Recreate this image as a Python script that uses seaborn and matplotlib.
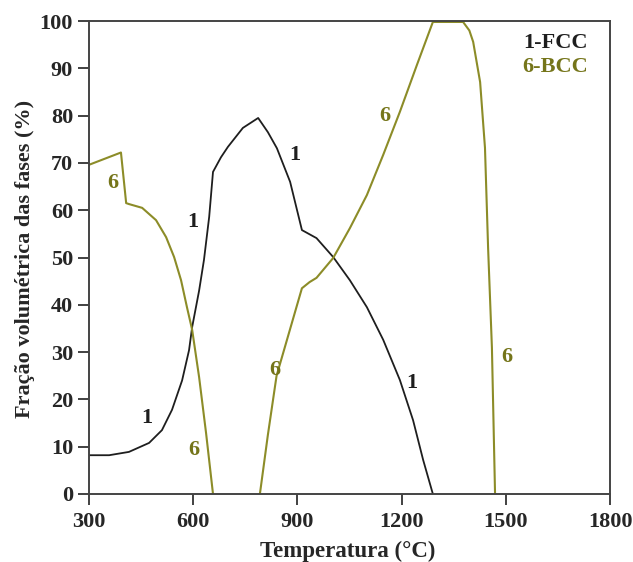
import numpy as np
import pandas as pd
import matplotlib
matplotlib.use("Agg")
import matplotlib.pyplot as plt
import seaborn as sns

# Phase volume fractions (%) vs temperature (°C)
fcc_temp = [300, 358, 415, 473, 510, 539, 568, 588, 597, 617, 631, 646, 657, 680, 700, 743, 787,
            815, 841, 879, 913, 955, 1003, 1051, 1100, 1147, 1195, 1233, 1262, 1290]
fcc_frac = [8.2, 8.2, 8.9, 10.8, 13.5, 17.8, 24.0, 30.4, 35.3, 43.0, 49.5, 58.6, 68.1, 71.2, 73.4, 77.4, 79.5,
            76.5, 73.1, 66.0, 55.8, 54.1, 50.1, 45.2, 39.5, 32.6, 24.1, 15.6, 7.2, 0.0]

bcc_temp_low = [300, 392, 407, 415, 453, 493, 522, 545, 565, 582, 597, 617, 637, 657]
bcc_frac_low = [69.6, 72.2, 61.5, 61.3, 60.5, 57.9, 54.3, 50.1, 45.2, 39.5, 34.7, 24.7, 12.9, 0.0]

bcc_temp_high = [792, 815, 840, 913, 935, 955, 1003, 1051, 1100, 1147, 1195, 1244, 1290,
                 1377, 1395, 1406, 1426, 1440, 1449, 1460, 1469]
bcc_frac_high = [0.0, 12.5, 25.0, 43.5, 44.8, 45.7, 49.9, 56.2, 63.2, 71.7, 80.8, 90.7, 99.8,
                 99.8, 98.0, 95.6, 87.1, 73.2, 52.0, 30.9, 0.0]

x_ticks = [300, 600, 900, 1200, 1500, 1800]
y_ticks = [0, 10, 20, 30, 40, 50, 60, 70, 80, 90, 100]

fcc_labels = [(467, 16.0), (600, 57.5), (893, 71.7), (1230, 23.5)]
bcc_labels = [(369, 65.8), (602, 9.3), (836, 26.2), (1152, 79.9), (1504, 29.0)]

sns.set_style("ticks")
plt.rcParams["font.family"] = ["Liberation Serif", "DejaVu Serif"]
plt.rcParams["font.weight"] = "bold"

FCC_COLOR = "#1e1e1e"
BCC_LINE = "#8c8c28"
BCC_TEXT = "#75751a"
FS = 16

fig = plt.figure(figsize=(6.33, 5.62), dpi=100)
ax = fig.add_axes([0.1406, 0.1210, 0.8231, 0.8416])

fcc_df = pd.DataFrame({"T": fcc_temp, "v": fcc_frac})
bcc_lo_df = pd.DataFrame({"T": bcc_temp_low, "v": bcc_frac_low})
bcc_hi_df = pd.DataFrame({"T": bcc_temp_high, "v": bcc_frac_high})

sns.lineplot(data=fcc_df, x="T", y="v", ax=ax, color=FCC_COLOR, lw=1.3, sort=False, estimator=None)
sns.lineplot(data=bcc_lo_df, x="T", y="v", ax=ax, color=BCC_LINE, lw=1.5, sort=False, estimator=None)
sns.lineplot(data=bcc_hi_df, x="T", y="v", ax=ax, color=BCC_LINE, lw=1.5, sort=False, estimator=None)

for (t, v) in fcc_labels:
    ax.text(t, v, "1", color=FCC_COLOR, fontsize=FS, fontweight="bold", ha="center", va="center")
for (t, v) in bcc_labels:
    ax.text(t, v, "6", color=BCC_TEXT, fontsize=FS, fontweight="bold", ha="center", va="center")

ax.text(1737, 95.3, "1-FCC", color=FCC_COLOR, fontsize=FS, fontweight="bold", ha="right", va="center")
ax.text(1737, 90.3, "6-BCC", color=BCC_TEXT, fontsize=FS, fontweight="bold", ha="right", va="center")

ax.set_xlim(300, 1800)
ax.set_ylim(0, 100)
ax.set_xticks(x_ticks)
ax.set_yticks(y_ticks)
ax.tick_params(axis="both", direction="out", length=8, width=1.3, labelsize=FS, color="#333333")
ax.tick_params(axis="x", pad=5)
ax.tick_params(axis="y", pad=3.5)
for lab in ax.get_xticklabels() + ax.get_yticklabels():
    lab.set_fontweight("bold")
for s in ax.spines.values():
    s.set_linewidth(1.4)
    s.set_color("#444444")

ax.set_xlabel("Temperatura (°C)", fontsize=16.5, fontweight="bold")
ax.set_ylabel("Fração volumétrica das fases (%)", fontsize=FS, fontweight="bold")
ax.xaxis.set_label_coords(0.496, -0.099)
ax.yaxis.set_label_coords(-0.104, 0.497)

fig.savefig("out.png", dpi=100)
